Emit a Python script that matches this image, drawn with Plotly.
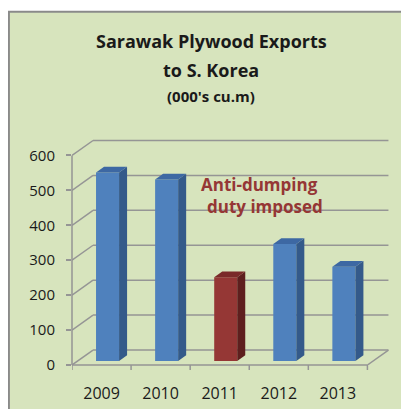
import plotly.graph_objects as go

# ---- data ----
years = ["2009", "2010", "2011", "2012", "2013"]
exports = [540, 520, 240, 335, 270]
is_duty_year = [False, False, True, False, False]
y_ticks = [0, 100, 200, 300, 400, 500, 600]

# ---- geometry (reference pixel mapping) ----
OFF = 8         # page body margin in the browser
W = H = 409 - OFF
PXX = 59.0      # px per category unit
PXY = 0.35      # px per value unit
L = 72          # ref pixel of x = -0.5
Y0 = 365        # ref pixel of y = 0
XR = [-0.5, 4.95]
YR = [0, 650]
PW = (XR[1] - XR[0]) * PXX
PH = (YR[1] - YR[0]) * PXY
ML = L - OFF
MR = W - ML - PW
MB = H - (Y0 - OFF)
MT = H - MB - PH

DX = 21 / PXX   # depth offset of back wall (x units)
DY = 15 / PXY   # depth offset of back wall (y units)
BX = 6 / PXX    # bar front face depth offset
BY = 4 / PXY
BW = 23 / PXX   # bar width
SX = 8 / PXX    # bar side depth
SY = 5.7 / PXY

def px2paper_x(px):
    return (px - L) / PW

def px2paper_y(py):
    return (Y0 - py) / PH

BLUE = ["#4f81bd", "#345a8a", "#3d68a3"]
RED = ["#953735", "#5e1f1e", "#7a2a29"]
GRID = "#959595"

fig = go.Figure()

shapes = []
# chart area background box
shapes.append(dict(type="rect", xref="paper", yref="paper",
                   x0=px2paper_x(9), x1=px2paper_x(430),
                   y0=px2paper_y(430), y1=px2paper_y(11),
                   fillcolor="#d7e4bd", line=dict(color="#8a8a8a", width=2),
                   layer="below"))
# back-wall gridlines and left-wall diagonals
for t in y_ticks:
    shapes.append(dict(type="line", xref="x", yref="y", x0=-0.5, y0=t,
                       x1=-0.5 + DX, y1=t + DY, line=dict(color=GRID, width=1.5), layer="below"))
    shapes.append(dict(type="line", xref="x", yref="y", x0=-0.5 + DX, y0=t + DY,
                       x1=4.5 + DX, y1=t + DY, line=dict(color=GRID, width=1.5), layer="below"))
# front left axis line
shapes.append(dict(type="line", xref="paper", yref="y", x0=0, x1=0, y0=0, y1=600,
                   line=dict(color=GRID, width=1.5), layer="below"))
# floor front edge and right diagonal
shapes.append(dict(type="line", xref="x", yref="paper", x0=-0.5, x1=4.5, y0=0, y1=0,
                   line=dict(color=GRID, width=1.5), layer="below"))
shapes.append(dict(type="line", xref="x", yref="y", x0=4.5, y0=0, x1=4.5 + DX, y1=DY,
                   line=dict(color=GRID, width=1.5), layer="below"))
# x tick marks at category boundaries
for i in range(len(years) + 1):
    shapes.append(dict(type="line", xref="x", yref="paper", x0=i - 0.5, x1=i - 0.5,
                       y0=0, y1=px2paper_y(Y0 + 5), line=dict(color=GRID, width=1.5), layer="below"))

# bars: front, side and top faces
for i, (v, red) in enumerate(zip(exports, is_duty_year)):
    c = RED if red else BLUE
    xl = i + BX - BW / 2
    xr = i + BX + BW / 2
    fig.add_trace(go.Bar(x=[i + BX], y=[v], base=[BY], width=BW,
                         marker=dict(color=c[0], line=dict(width=0)),
                         showlegend=False, hoverinfo="skip"))
    fig.add_trace(go.Scatter(x=[xr, xr + SX, xr + SX, xr, xr],
                             y=[BY, BY + SY, BY + v + SY, BY + v, BY],
                             fill="toself", fillcolor=c[1], mode="lines",
                             line=dict(width=0, color=c[1]), showlegend=False, hoverinfo="skip"))
    fig.add_trace(go.Scatter(x=[xl, xr, xr + SX, xl + SX, xl],
                             y=[BY + v, BY + v, BY + v + SY, BY + v + SY, BY + v],
                             fill="toself", fillcolor=c[2], mode="lines",
                             line=dict(width=0, color=c[2]), showlegend=False, hoverinfo="skip"))

FONT = "Open Sans"
annots = [
    dict(text="<b>Sarawak Plywood Exports</b>", px=211, py=40.5, size=18, color="#1a1a1a"),
    dict(text="<b>to S. Korea</b>", px=211, py=69.5, size=18, color="#1a1a1a"),
    dict(text="<b>(000's cu.m)</b>", px=211, py=95, size=15, color="#1a1a1a"),
    dict(text="<b>Anti-dumping</b>", px=259, py=184, size=17, color="#953735"),
    dict(text="<b>duty imposed</b>", px=265, py=206, size=17, color="#953735"),
]
annotations = [dict(text=a["text"], xref="paper", yref="paper",
                    x=px2paper_x(a["px"]), y=px2paper_y(a["py"]),
                    xanchor="center", yanchor="middle", showarrow=False,
                    font=dict(family=FONT, size=a["size"], color=a["color"]))
               for a in annots]

fig.update_layout(
    width=W, height=H, autosize=False,
    margin=dict(l=ML, r=MR, t=MT, b=MB, pad=0, autoexpand=False),
    paper_bgcolor="white", plot_bgcolor="rgba(0,0,0,0)",
    shapes=shapes, annotations=annotations,
    barmode="overlay",
    xaxis=dict(range=XR, tickvals=list(range(len(years))), ticktext=years,
               showgrid=False, zeroline=False, showline=False, ticks="",
               ticklabelstandoff=17, automargin=False,
               tickfont=dict(family=FONT, size=16, color="#1a1a1a"),
               fixedrange=True),
    yaxis=dict(range=YR, tickvals=y_ticks, showgrid=False, zeroline=False,
               showline=False, ticks="outside", ticklen=5, tickwidth=1.5,
               tickcolor=GRID, ticklabelstandoff=8, automargin=False,
               tickfont=dict(family=FONT, size=15, color="#1a1a1a"),
               fixedrange=True),
)

fig.write_html("out.html")
